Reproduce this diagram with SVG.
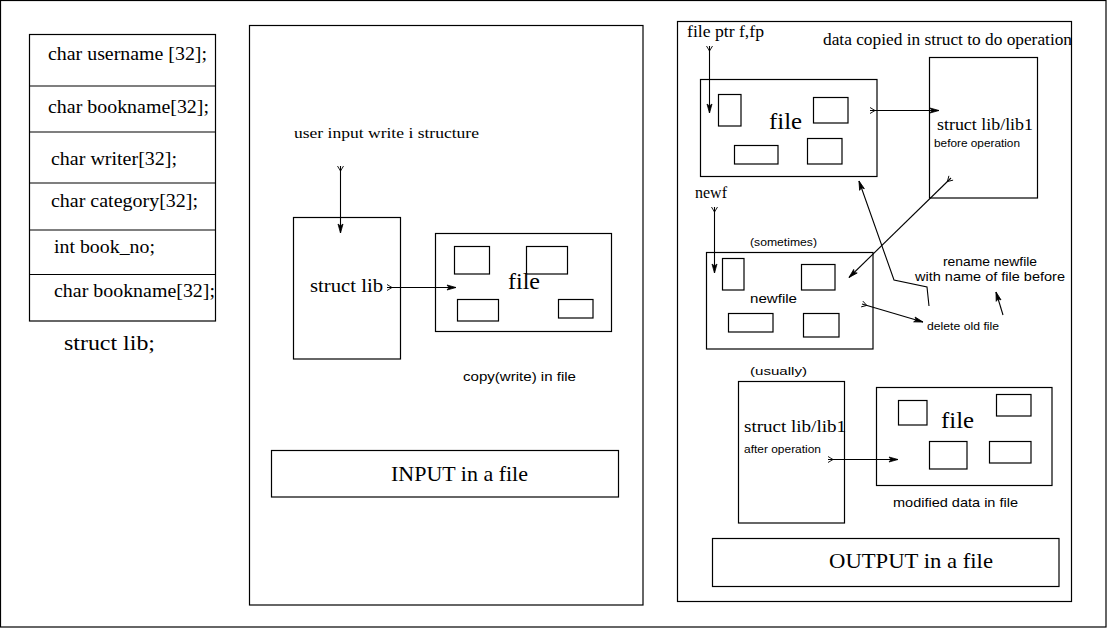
<svg xmlns="http://www.w3.org/2000/svg" width="1107" height="628" viewBox="0 0 1107 628">
<style>
.b{fill:none;stroke:#000;stroke-width:1.2}
.c{fill:none;stroke:#000;stroke-width:1.1}
.s{font-family:"Liberation Serif","Times New Roman",serif;fill:#000}
.h{font-family:"Liberation Sans",Arial,sans-serif;fill:#000}
</style>
<defs>
<marker id="ah" markerUnits="userSpaceOnUse" markerWidth="12" markerHeight="8" refX="9" refY="4" orient="auto" overflow="visible">
<path d="M0,1.5 L9,4 L0,6.5 L2,4 z" fill="#000" stroke="#000" stroke-width="0.8"/>
</marker>
<marker id="tl" markerUnits="userSpaceOnUse" markerWidth="8" markerHeight="8" refX="0" refY="4" orient="auto" overflow="visible">
<path d="M0,1 L5,4 L0,7" fill="none" stroke="#000" stroke-width="0.9"/>
</marker>
</defs>
<rect x="0.5" y="0.5" width="1105.5" height="626.5" class="b"/>

<g id="struct-def">
<rect x="29.5" y="34.5" width="186" height="286.5" class="b"/>
<line x1="29.5" y1="86" x2="215.5" y2="86" class="b"/>
<line x1="29.5" y1="132" x2="215.5" y2="132" class="b"/>
<line x1="29.5" y1="183" x2="215.5" y2="183" class="b"/>
<line x1="29.5" y1="230" x2="215.5" y2="230" class="b"/>
<line x1="29.5" y1="274.5" x2="215.5" y2="274.5" class="b"/>
<text class="s" x="48" y="60" font-size="18" textLength="159" lengthAdjust="spacingAndGlyphs">char username [32];</text>
<text class="s" x="48" y="113" font-size="18" textLength="161" lengthAdjust="spacingAndGlyphs">char bookname[32];</text>
<text class="s" x="51" y="165" font-size="18" textLength="126" lengthAdjust="spacingAndGlyphs">char writer[32];</text>
<text class="s" x="51" y="207" font-size="18" textLength="147" lengthAdjust="spacingAndGlyphs">char category[32];</text>
<text class="s" x="54" y="253" font-size="18" textLength="101" lengthAdjust="spacingAndGlyphs">int book_no;</text>
<text class="s" x="54" y="297" font-size="18" textLength="161" lengthAdjust="spacingAndGlyphs">char bookname[32];</text>
<text class="s" x="64" y="350" font-size="22" textLength="91" lengthAdjust="spacingAndGlyphs">struct lib;</text>
</g>

<g id="input-panel">
<rect x="249.5" y="25.5" width="393.5" height="579.5" class="b"/>
<text class="s" x="294" y="138" font-size="15.5" textLength="185" lengthAdjust="spacingAndGlyphs">user input write i structure</text>
<text class="h" x="463" y="381" font-size="12" textLength="113" lengthAdjust="spacingAndGlyphs">copy(write) in file</text>
</g>
<g id="struct-lib-in">
<rect x="293.5" y="217.5" width="107" height="141.5" class="b"/>
<text class="s" x="310" y="292" font-size="18" textLength="73" lengthAdjust="spacingAndGlyphs">struct lib</text>
</g>
<g id="file-in">
<rect x="435.5" y="233.5" width="176" height="98" class="b"/>
<rect x="454.5" y="246.5" width="35" height="27.5" class="b"/>
<rect x="526.5" y="246.5" width="41" height="27.5" class="b"/>
<rect x="457.5" y="299.5" width="41" height="21.5" class="b"/>
<rect x="558.5" y="299.5" width="34.5" height="18.5" class="b"/>
<text class="s" x="508" y="289" font-size="24" textLength="32" lengthAdjust="spacingAndGlyphs">file</text>
</g>
<g id="input-box">
<rect x="271.5" y="450.5" width="347" height="46.5" class="b"/>
<text class="s" x="391" y="481" font-size="22" textLength="137" lengthAdjust="spacingAndGlyphs">INPUT in a file</text>
</g>

<g id="output-panel">
<rect x="677.5" y="21.5" width="394" height="580" class="b"/>
<text class="s" x="687" y="37" font-size="17" textLength="77" lengthAdjust="spacingAndGlyphs">file ptr f,fp</text>
<text class="s" x="823" y="45" font-size="16" textLength="249" lengthAdjust="spacingAndGlyphs">data copied in struct to do operation</text>
<text class="s" x="695" y="198" font-size="17" textLength="32" lengthAdjust="spacingAndGlyphs">newf</text>
<text class="h" x="750" y="246" font-size="11" textLength="67" lengthAdjust="spacingAndGlyphs">(sometimes)</text>
<text class="h" x="943" y="266" font-size="13" textLength="94" lengthAdjust="spacingAndGlyphs">rename newfile</text>
<text class="h" x="915" y="281" font-size="13" textLength="150" lengthAdjust="spacingAndGlyphs">with name of file before</text>
<text class="h" x="927" y="330" font-size="11" textLength="72" lengthAdjust="spacingAndGlyphs">delete old file</text>
<text class="h" x="750" y="375" font-size="11" textLength="57" lengthAdjust="spacingAndGlyphs">(usually)</text>
<text class="h" x="893" y="507" font-size="13" textLength="125" lengthAdjust="spacingAndGlyphs">modified data in file</text>
</g>
<g id="file-out">
<rect x="700.5" y="79.5" width="176.5" height="97" class="b"/>
<rect x="718.5" y="94.5" width="22.5" height="31.5" class="b"/>
<rect x="813.5" y="97.5" width="34.5" height="25.5" class="b"/>
<rect x="734.5" y="145.5" width="43.5" height="18.5" class="b"/>
<rect x="807.5" y="138.5" width="34.5" height="25.5" class="b"/>
<text class="s" x="769" y="129" font-size="24" textLength="33" lengthAdjust="spacingAndGlyphs">file</text>
</g>
<g id="struct-before">
<rect x="929.5" y="57.5" width="108" height="140.5" class="b"/>
<text class="s" x="937" y="130" font-size="17" textLength="96" lengthAdjust="spacingAndGlyphs">struct lib/lib1</text>
<text class="h" x="934" y="147" font-size="11" textLength="86" lengthAdjust="spacingAndGlyphs">before operation</text>
</g>
<g id="newfile">
<rect x="706.5" y="252.5" width="166.5" height="96.5" class="b"/>
<rect x="722.5" y="258.5" width="21.5" height="31.5" class="b"/>
<rect x="801.5" y="264.5" width="33.5" height="25.5" class="b"/>
<rect x="728.5" y="313.5" width="44.5" height="18.5" class="b"/>
<rect x="803.5" y="313.5" width="35.5" height="23.5" class="b"/>
<text class="h" x="750" y="303" font-size="13" textLength="47" lengthAdjust="spacingAndGlyphs">newfile</text>
</g>
<g id="struct-after">
<rect x="738.5" y="381.5" width="106" height="141.5" class="b"/>
<text class="s" x="744" y="432" font-size="17.5" textLength="102" lengthAdjust="spacingAndGlyphs">struct lib/lib1</text>
<text class="h" x="744" y="453" font-size="11" textLength="77" lengthAdjust="spacingAndGlyphs">after operation</text>
</g>
<g id="file-modified">
<rect x="876.5" y="387.5" width="175.5" height="98" class="b"/>
<rect x="898.5" y="400.5" width="28.5" height="24.5" class="b"/>
<rect x="996.5" y="394.5" width="34.5" height="21.5" class="b"/>
<rect x="929.5" y="441.5" width="37.5" height="27.5" class="b"/>
<rect x="989.5" y="441.5" width="41.5" height="21.5" class="b"/>
<text class="s" x="941" y="428" font-size="24" textLength="33" lengthAdjust="spacingAndGlyphs">file</text>
</g>
<g id="output-box">
<rect x="712.5" y="538.5" width="346.5" height="48" class="b"/>
<text class="s" x="829" y="568" font-size="22" textLength="164" lengthAdjust="spacingAndGlyphs">OUTPUT in a file</text>
</g>

<g id="connectors">
<line x1="340.5" y1="166" x2="340.5" y2="233" class="c" marker-start="url(#tl)" marker-end="url(#ah)"/>
<line x1="387" y1="287.5" x2="456" y2="287.5" class="c" marker-start="url(#tl)" marker-end="url(#ah)"/>
<line x1="709.5" y1="46" x2="709.5" y2="113" class="c" marker-start="url(#tl)" marker-end="url(#ah)"/>
<line x1="870" y1="110.5" x2="939" y2="110.5" class="c" marker-start="url(#tl)" marker-end="url(#ah)"/>
<line x1="714.5" y1="207" x2="714.5" y2="273" class="c" marker-start="url(#tl)" marker-end="url(#ah)"/>
<line x1="951" y1="178" x2="849" y2="277.5" class="c" marker-start="url(#tl)" marker-end="url(#ah)"/>
<polyline points="929,306 927,287 894,280 859,181" class="c" marker-end="url(#ah)"/>
<line x1="862" y1="304" x2="923" y2="322" class="c" marker-start="url(#tl)" marker-end="url(#ah)"/>
<line x1="1003" y1="315" x2="996" y2="292" class="c" marker-end="url(#ah)"/>
<line x1="828" y1="459.5" x2="898" y2="459.5" class="c" marker-start="url(#tl)" marker-end="url(#ah)"/>
</g>
</svg>
